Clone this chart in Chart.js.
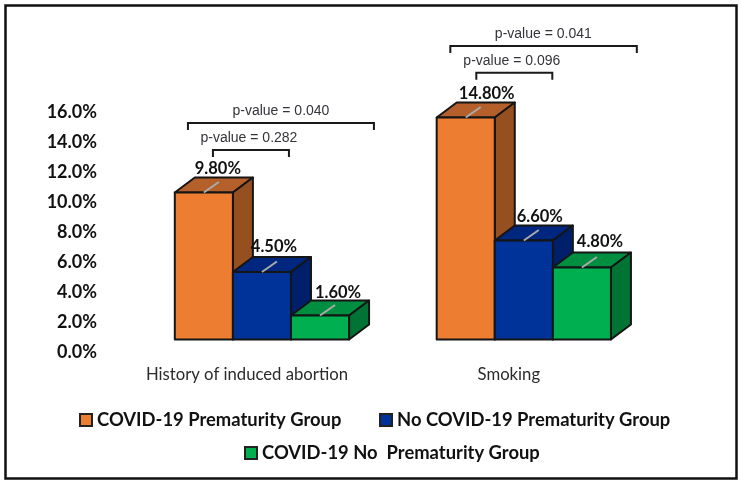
<!DOCTYPE html>
<html>
<head>
<meta charset="utf-8">
<title>Prematurity chart</title>
<script src="https://cdn.jsdelivr.net/npm/chart.js@4/dist/chart.umd.min.js"></script>
<style>
  html, body { margin: 0; padding: 0; background: #fff; }
  canvas { display: block; }
</style>
</head>
<body>
<canvas id="chart" width="742" height="483"></canvas>
<script>
// Values
const categories = ['History of induced abortion', 'Smoking'];
const prematurity = [9.8, 14.8];
const noCovidPrematurity = [4.5, 6.6];
const covidNoPrematurity = [1.6, 4.8];
const groupNames = ['COVID-19 Prematurity Group', 'No COVID-19 Prematurity Group', 'COVID-19 No  Prematurity Group'];
const pValues = ['p-value = 0.040', 'p-value = 0.282', 'p-value = 0.041', 'p-value = 0.096'];

// Colours of each bar: front, top, side
const orange = ['#ED7D31', '#B5602A', '#96501F'];
const blue = ['#003399', '#00277F', '#001F6B'];
const green = ['#00B050', '#008F40', '#007335'];

const DEPTH_X = 20;
const DEPTH_Y = 15;
const EDGE = '#151515';

// Brackets: category index, left/right from the category centre, level on the y scale
const brackets = [
    { cat: 0, from: -74, to: 112, level: 14.43, textDx: 19, text: pValues[0] },
    { cat: 0, from: -49, to: 27, level: 12.63, textDx: -13, text: pValues[1] },
    { cat: 1, from: -73.5, to: 113, level: 19.57, textDx: 19.5, text: pValues[2] },
    { cat: 1, from: -47.5, to: 28.5, level: 17.79, textDx: -12, text: pValues[3] }
];

// Small shifts of the value labels, by dataset then category
const labelShift = [
    [[14, -23.5], [21, -23.5]],
    [[12, -25], [16, -23.5]],
    [[18, -23], [18, -25.8]]
];

const legendRows = [
    { box: 80, y: 420, name: 0 },
    { box: 380, y: 420, name: 1 },
    { box: 245, y: 453, name: 2 }
];

const faces = [orange, blue, green];

function poly(ctx, pts, fill) {
    ctx.beginPath();
    pts.forEach((p, i) => i ? ctx.lineTo(p[0], p[1]) : ctx.moveTo(p[0], p[1]));
    ctx.closePath();
    ctx.fillStyle = fill;
    ctx.fill();
    ctx.stroke();
}

// Draws the depth of the bars, orange first so the next bar sits in front of it
const bars3d = {
    id: 'bars3d',
    afterDatasetsDraw(chart) {
        const ctx = chart.ctx;
        ctx.save();
        chart.data.datasets.forEach((ds, d) => {
            chart.getDatasetMeta(d).data.forEach((bar, i) => {
                const left = bar.x - bar.width / 2;
                const right = bar.x + bar.width / 2;
                ctx.strokeStyle = EDGE;
                ctx.lineWidth = 2;
                ctx.lineJoin = 'round';
                poly(ctx, [[left, bar.y], [left + DEPTH_X, bar.y - DEPTH_Y], [right + DEPTH_X, bar.y - DEPTH_Y], [right, bar.y]], faces[d][1]);
                poly(ctx, [[right, bar.y], [right + DEPTH_X, bar.y - DEPTH_Y], [right + DEPTH_X, bar.base - DEPTH_Y], [right, bar.base]], faces[d][2]);
                bar.draw(ctx);
                ctx.strokeRect(left, bar.y, bar.width, bar.base - bar.y);
                // grey leader line on the top face
                ctx.beginPath();
                ctx.moveTo(bar.x, bar.y);
                ctx.lineTo(bar.x + 15, bar.y - 10.5);
                ctx.strokeStyle = '#ABABAB';
                ctx.stroke();
            });
        });
        ctx.restore();
    }
};

const extras = {
    id: 'extras',
    afterDraw(chart) {
        const ctx = chart.ctx;
        const x = chart.scales.x;
        const y = chart.scales.y;
        ctx.save();

        // value labels
        ctx.font = 'bold 16.5px Lato';
        ctx.fillStyle = '#111';
        ctx.textAlign = 'center';
        ctx.textBaseline = 'middle';
        chart.data.datasets.forEach((ds, d) => {
            chart.getDatasetMeta(d).data.forEach((bar, i) => {
                ctx.fillText(ds.data[i].toFixed(2) + '%', bar.x + labelShift[d][i][0], bar.y + labelShift[d][i][1]);
            });
        });

        // p-value brackets
        ctx.strokeStyle = '#1a1a1a';
        ctx.lineWidth = 2;
        brackets.forEach(b => {
            const c = x.getPixelForTick(b.cat);
            const py = y.getPixelForValue(b.level);
            ctx.beginPath();
            ctx.moveTo(c + b.from, py + 7);
            ctx.lineTo(c + b.from, py);
            ctx.lineTo(c + b.to, py);
            ctx.lineTo(c + b.to, py + 7);
            ctx.stroke();
            ctx.font = '14px "Liberation Sans"';
            ctx.fillStyle = '#33343a';
            ctx.fillText(b.text, c + b.textDx, py - 11.5);
        });

        // legend
        ctx.textAlign = 'left';
        ctx.font = 'bold 18.4px Lato';
        legendRows.forEach(r => {
            ctx.fillStyle = faces[r.name][0];
            ctx.strokeStyle = '#222';
            ctx.lineWidth = 2;
            ctx.fillRect(r.box, r.y - 6, 12, 12);
            ctx.strokeRect(r.box, r.y - 6, 12, 12);
            ctx.fillStyle = '#111';
            ctx.fillText(chart.data.datasets[r.name].label, r.box + 17, r.y);
        });

        // frame around the figure
        ctx.strokeStyle = '#111';
        ctx.lineWidth = 2.5;
        ctx.strokeRect(5.5, 5.5, 731, 473);
        ctx.restore();
    }
};

function barSet(label, data, colors) {
    return {
        label: label,
        data: data,
        backgroundColor: colors[0],
        borderWidth: 0,
        categoryPercentage: 0.6654,
        barPercentage: 1
    };
}

new Chart(document.getElementById('chart'), {
    type: 'bar',
    data: {
        labels: categories,
        datasets: [
            barSet(groupNames[0], prematurity, orange),
            barSet(groupNames[1], noCovidPrematurity, blue),
            barSet(groupNames[2], covidNoPrematurity, green)
        ]
    },
    plugins: [bars3d, extras],
    options: {
        responsive: false,
        animation: false,
        layout: { padding: { left: 47, right: 87.25, top: 99.5, bottom: 83.5 } },
        plugins: {
            legend: { display: false },
            tooltip: { enabled: false }
        },
        scales: {
            x: {
                grid: { display: false },
                border: { display: false },
                afterFit(s) { s.height = 60; },
                ticks: {
                    padding: 17,
                    labelOffset: -15,
                    color: '#2b2b2b',
                    maxRotation: 0,
                    font: { family: 'Lato', size: 16.7 }
                }
            },
            y: {
                min: 0,
                max: 16,
                grid: { display: false, drawTicks: false },
                border: { display: false },
                afterFit(s) { s.width = 84; },
                ticks: {
                    stepSize: 2,
                    padding: 34,
                    labelOffset: 13,
                    color: '#111',
                    font: { family: 'Lato', size: 18, weight: 'bold' },
                    callback: function(value) {
                        return value.toFixed(1) + '%';
                    }
                }
            }
        }
    }
});
</script>
</body>
</html>
